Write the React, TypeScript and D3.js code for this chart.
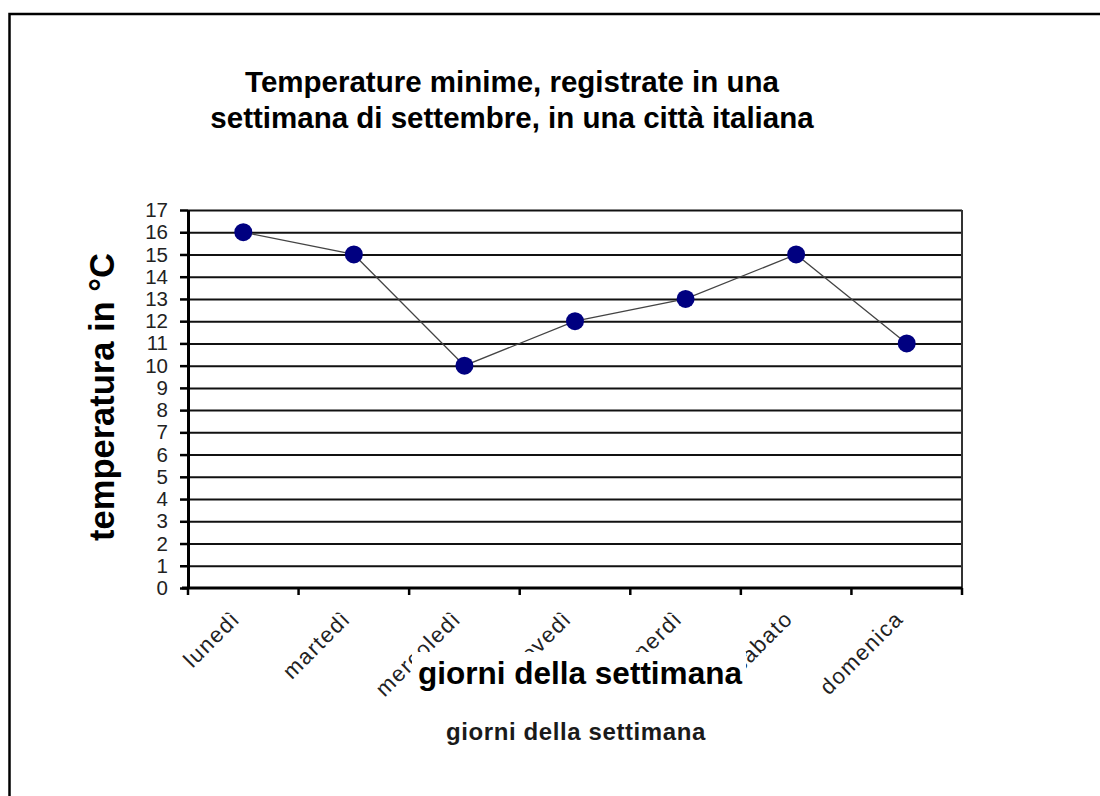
import React, { useEffect, useRef } from 'react';
import * as d3 from 'd3';

const days = ['lunedì', 'martedì', 'mercoledì', 'giovedì', 'venerdì', 'sabato', 'domenica'];
const minTemps = [16, 15, 10, 12, 13, 15, 11];
const yTickValues = [0, 1, 2, 3, 4, 5, 6, 7, 8, 9, 10, 11, 12, 13, 14, 15, 16, 17];
const titleLines = ['Temperature minime, registrate in una', 'settimana di settembre, in una città italiana'];
const yTitle = 'temperatura in °C';
const xTitle = 'giorni della settimana';

const FONT = '"Liberation Sans", Arial, sans-serif';

const App = () => {
  const chartRef = useRef<SVGSVGElement>(null);

  useEffect(() => {
    const W = 1100, H = 796;
    const svg = d3.select(chartRef.current).attr('width', W).attr('height', H);

    // Clear previous content
    svg.selectAll('*').remove();

    const plot = { left: 188, right: 962, top: 210, bottom: 588 };

    const x = d3.scaleBand<string>().domain(days).range([plot.left, plot.right]);
    const y = d3.scaleLinear().domain([0, 17]).range([plot.bottom, plot.top]);
    const cx = (d: string) => (x(d) as number) + x.bandwidth() / 2;

    svg.append('rect').attr('width', W).attr('height', H).attr('fill', '#fff');

    // outer frame (only top and left edges fall inside the picture)
    svg.append('rect')
      .attr('x', 9.5).attr('y', 14)
      .attr('width', W + 40).attr('height', H + 40)
      .attr('fill', 'none').attr('stroke', '#000').attr('stroke-width', 2.5);

    // title
    svg.append('text')
      .attr('x', 512).attr('y', 92)
      .attr('text-anchor', 'middle')
      .attr('font-family', FONT).attr('font-weight', 'bold').attr('font-size', 29.5)
      .selectAll('tspan')
      .data(titleLines)
      .enter().append('tspan')
      .attr('x', 512)
      .attr('dy', (_, i) => (i === 0 ? 0 : 36))
      .text(d => d);

    // gridlines
    svg.append('g')
      .attr('transform', `translate(${plot.left},0)`)
      .call(d3.axisRight(y).tickValues(yTickValues.slice(1)).tickSize(plot.right - plot.left).tickFormat(() => ''))
      .call(g => g.select('.domain').remove())
      .selectAll('line')
      .attr('stroke', '#111').attr('stroke-width', 2);

    // right border
    svg.append('line')
      .attr('x1', plot.right).attr('x2', plot.right)
      .attr('y1', y(0)).attr('y2', y(17))
      .attr('stroke', '#333').attr('stroke-width', 2);

    // y axis
    const yAxis = svg.append('g')
      .attr('transform', `translate(${plot.left},0)`)
      .call(d3.axisLeft(y).tickValues(yTickValues).tickSize(8).tickSizeOuter(0).tickPadding(12));
    yAxis.select('.domain').attr('stroke', '#000').attr('stroke-width', 3);
    yAxis.selectAll('.tick line').attr('stroke', '#000').attr('stroke-width', 2.5);
    yAxis.selectAll('.tick text')
      .attr('font-family', FONT).attr('font-size', 20.5).attr('fill', '#222');

    // x axis
    svg.append('line')
      .attr('x1', plot.left - 6).attr('x2', plot.right)
      .attr('y1', y(0)).attr('y2', y(0))
      .attr('stroke', '#000').attr('stroke-width', 3);

    const boundaries = [...days.map(d => x(d) as number), plot.right];
    svg.append('g')
      .selectAll('line')
      .data(boundaries)
      .enter().append('line')
      .attr('x1', d => d).attr('x2', d => d)
      .attr('y1', y(0)).attr('y2', y(0) + 7)
      .attr('stroke', '#000').attr('stroke-width', 2.5);

    svg.append('g')
      .selectAll('text')
      .data(days)
      .enter().append('text')
      .attr('transform', d => `translate(${cx(d) - 2},${y(0) + 32}) rotate(-45)`)
      .attr('text-anchor', 'end')
      .attr('font-family', FONT).attr('font-size', 22)
      .attr('letter-spacing', 1.5)
      .attr('fill', '#222')
      .text(d => d);

    // x title with its own white box over the labels
    svg.append('rect')
      .attr('x', 412).attr('y', 652)
      .attr('width', 334).attr('height', 44)
      .attr('fill', '#fff');
    svg.append('text')
      .attr('x', 580).attr('y', 684)
      .attr('text-anchor', 'middle')
      .attr('font-family', FONT).attr('font-weight', 'bold').attr('font-size', 31.5)
      .text(xTitle);

    svg.append('text')
      .attr('x', 576).attr('y', 740)
      .attr('text-anchor', 'middle')
      .attr('font-family', FONT).attr('font-weight', 'bold').attr('font-size', 24)
      .attr('letter-spacing', 0.6)
      .attr('fill', '#1a1a1a')
      .text(xTitle);

    // y title
    svg.append('text')
      .attr('transform', 'translate(114,397) rotate(-90)')
      .attr('text-anchor', 'middle')
      .attr('font-family', FONT).attr('font-weight', 'bold').attr('font-size', 34.5)
      .text(yTitle);

    // series
    const line = d3.line<number>()
      .x((_, i) => cx(days[i]))
      .y(d => y(d));

    svg.append('path')
      .datum(minTemps)
      .attr('d', line)
      .attr('fill', 'none')
      .attr('stroke', '#444').attr('stroke-width', 1.3);

    svg.append('g')
      .selectAll('circle')
      .data(minTemps)
      .enter().append('circle')
      .attr('cx', (_, i) => cx(days[i]))
      .attr('cy', d => y(d))
      .attr('r', 9)
      .attr('fill', '#000080');
  }, []);

  return <svg ref={chartRef} style={{ position: 'absolute', left: 0, top: 0, display: 'block' }}></svg>;
};

export default App;
